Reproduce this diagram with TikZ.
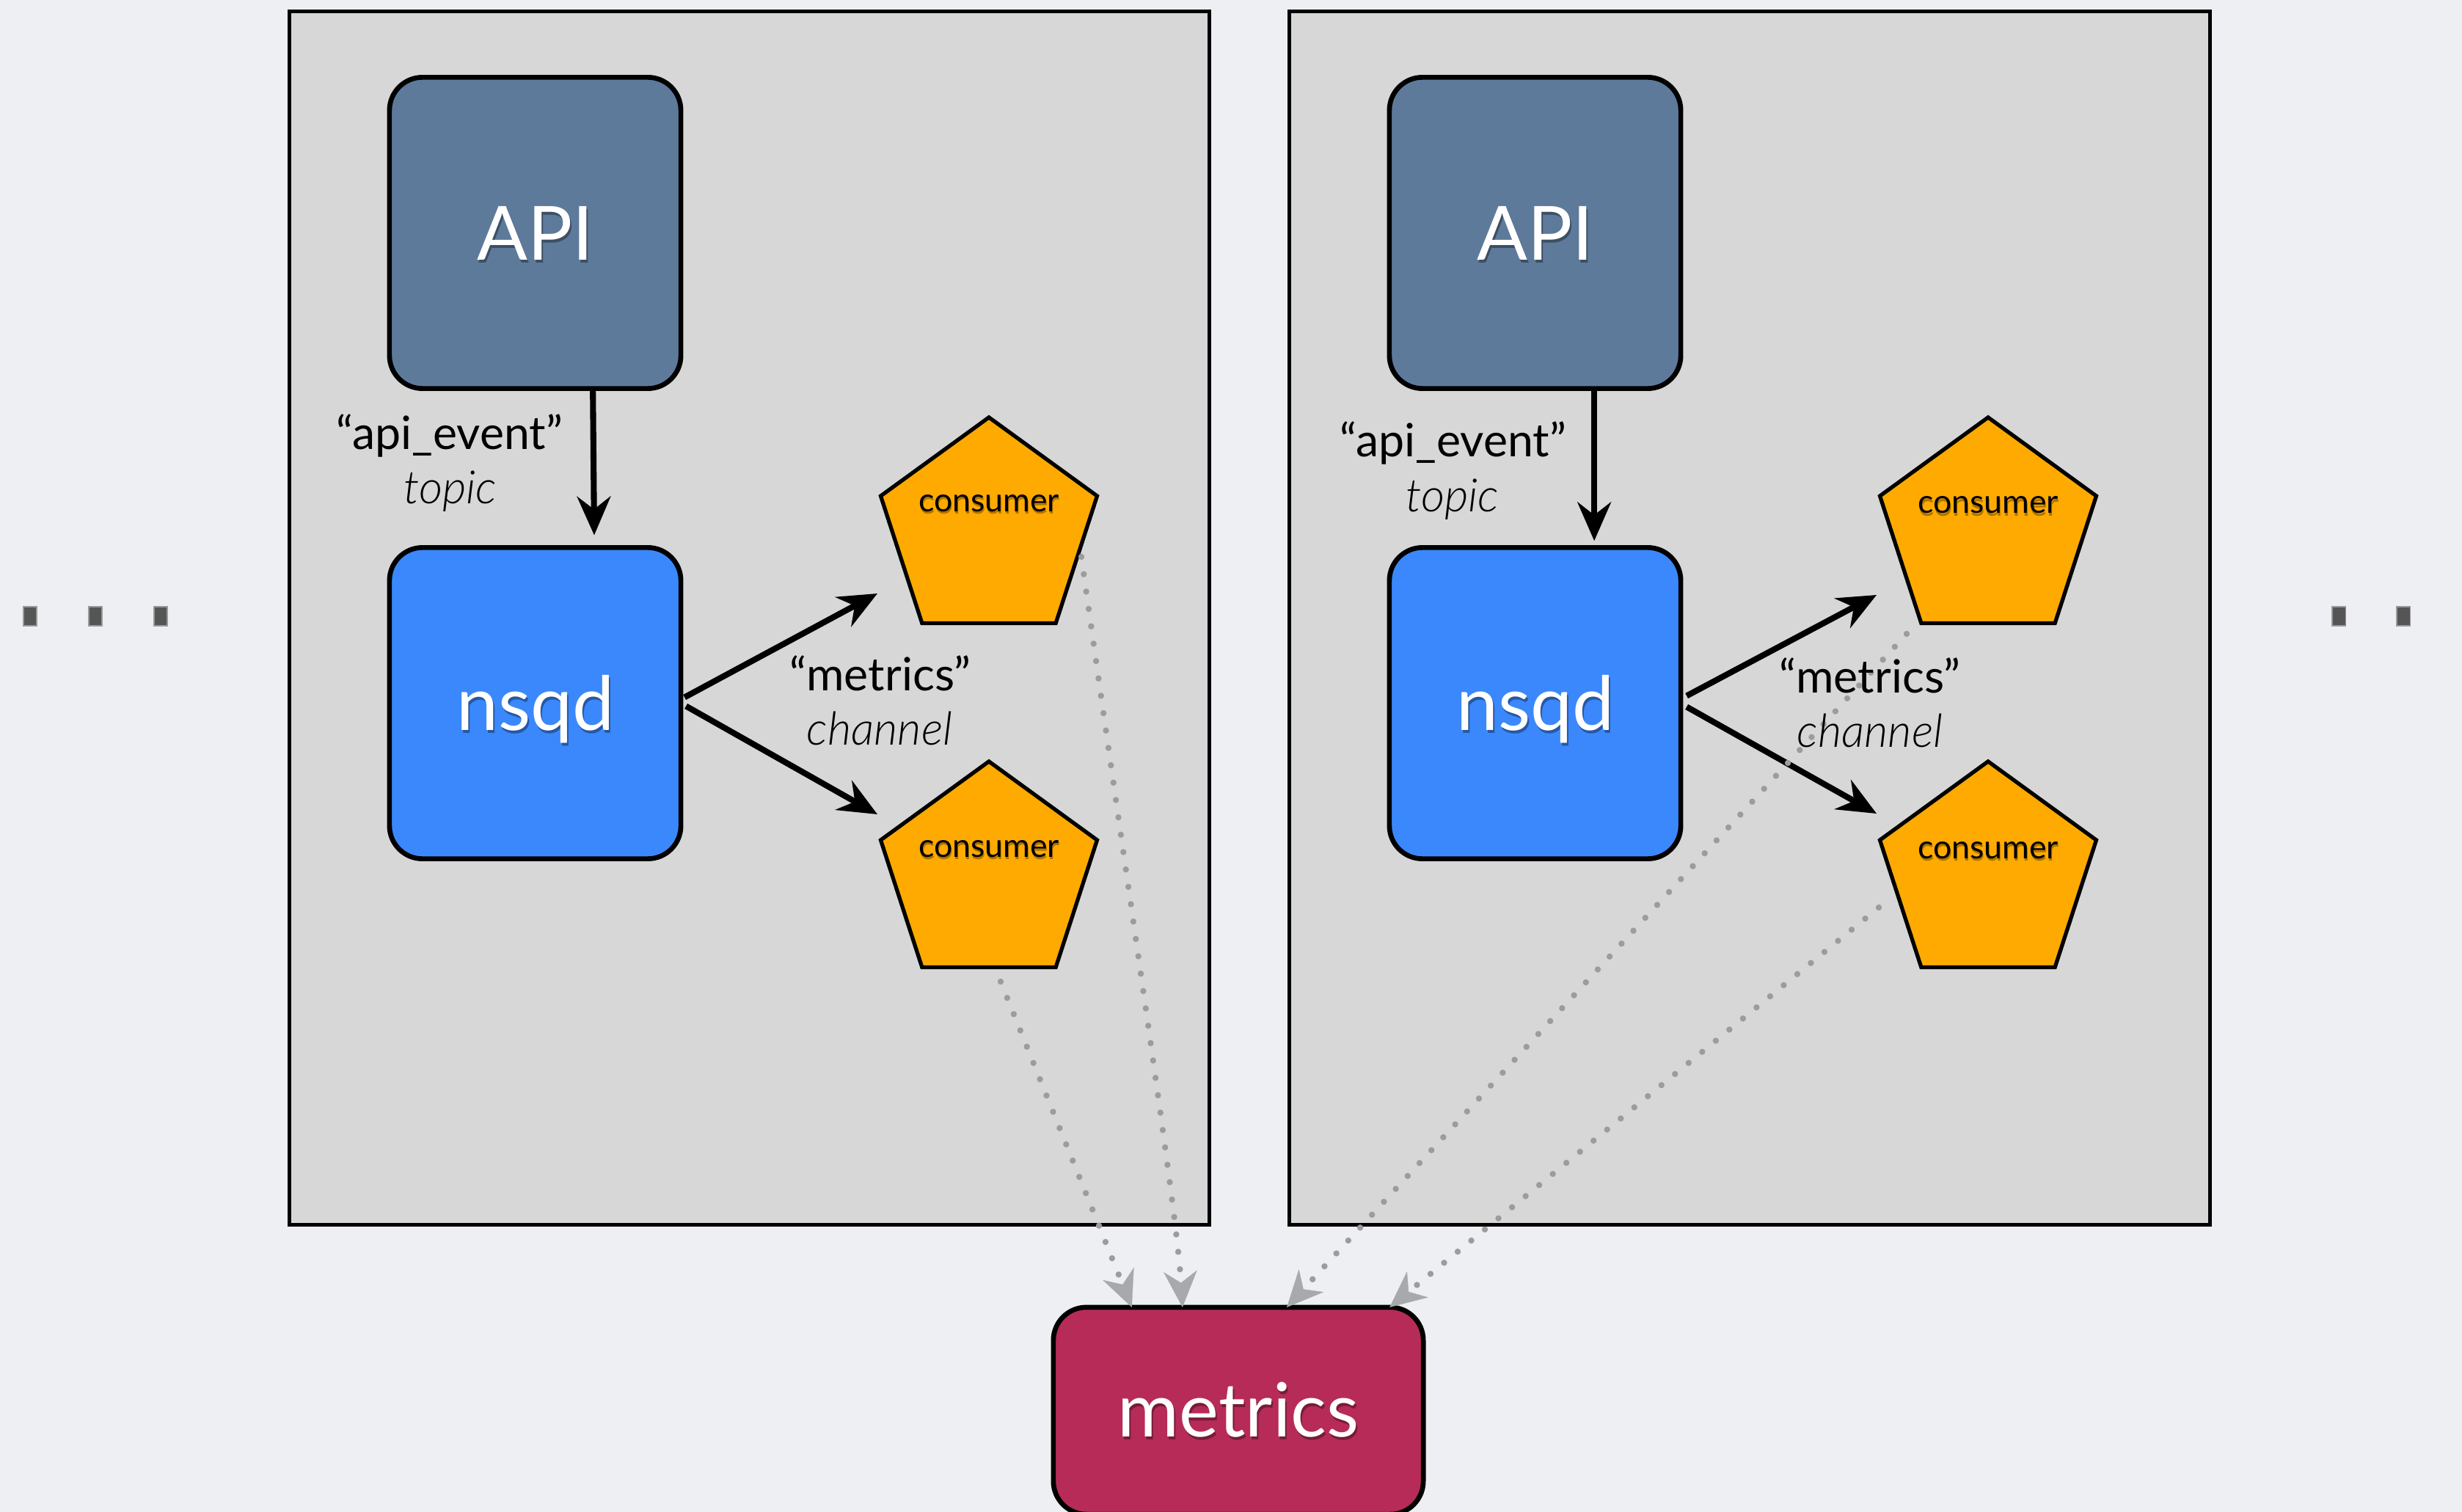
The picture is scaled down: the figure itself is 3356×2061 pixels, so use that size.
\documentclass[tikz,border=0pt]{standalone}
\usepackage{fontspec}
\setmainfont{Lato}
\newfontface\lightit{Lato Light Italic}
\usetikzlibrary{arrows.meta,shapes.geometric,calc}

\definecolor{bgcol}{HTML}{EEEFF2}
\definecolor{panelcol}{HTML}{D7D7D7}
\definecolor{apicol}{HTML}{5E7A9B}
\definecolor{nsqdcol}{HTML}{3B88FD}
\definecolor{conscol}{HTML}{FFAA00}
\definecolor{metcol}{HTML}{B72B58}
\definecolor{dotcol}{HTML}{9C9C9E}
\definecolor{tipcol}{HTML}{A8A9AD}
\definecolor{ellcol}{HTML}{555555}

\tikzset{
  panel/.style={rectangle, draw=black, fill=panelcol, line width=1.45pt,
    inner sep=0pt, outer sep=0pt},
  servicebox/.style={rectangle, rounded corners=0.45cm, draw=black,
    line width=1.9pt, inner sep=0pt, outer sep=0pt,
    minimum width=3.97cm, minimum height=4.24cm},
  consumer/.style={regular polygon, regular polygon sides=5, inner sep=0pt,
    outer sep=0pt, minimum size=3.1cm, draw=black, fill=conscol,
    line width=1.5pt},
  boxtxt/.style={anchor=base, text=white, font=\fontsize{29}{29}\selectfont},
  lbl/.style={anchor=base, font=\fontsize{17.8}{17.8}\selectfont},
  lblit/.style={anchor=base, font=\lightit\fontsize{17.8}{17.8}\selectfont},
  constxt/.style={anchor=base, font=\fontsize{12.7}{12.7}\selectfont},
  blackarr/.style={line width=2.3pt,
    -{Stealth[length=15pt,width=13pt,inset=5pt]}},
  dotarr/.style={draw=dotcol, line width=2.4pt,
    line cap=round, dash pattern=on 0pt off 6.8pt,
    -{Stealth[length=14pt,width=13pt,inset=4.5pt,color=tipcol,fill=tipcol,line width=0.1pt]}},
  ellmark/.style={rectangle, inner sep=0pt, outer sep=0pt,
    minimum width=0.18cm, minimum height=0.26cm, fill=ellcol,
    draw=black!40, line width=0.3pt},
}

% white caption with a soft drop shadow
\newcommand\whitelabel[3]{%
  \node[boxtxt, text=black, text opacity=0.35] (#1s) at ($#2+(2,4)$) {#3};
  \node[boxtxt] (#1) at #2 {#3};
}
% black caption with a faint shadow
\newcommand\conslabel[3]{%
  \node[constxt, text=black!70!conscol, text opacity=0.45] (#1s) at ($#2+(1,3)$) {#3};
  \node[constxt] (#1) at #2 {#3};
}

\begin{document}
\begin{tikzpicture}[x=0.01cm, y=-0.01cm]
\fill[bgcol] (0,0) rectangle (3356,2061);
\useasboundingbox (0,0) rectangle (3356,2061);
\clip (0,0) rectangle (3356,2061);

% ellipsis marks on both sides
\node[ellmark] (eL1) at (41,840) {};
\node[ellmark] (eL2) at (130,840) {};
\node[ellmark] (eL3) at (219,840) {};
\node[ellmark] (eR1) at (3188,840) {};
\node[ellmark] (eR2) at (3276,840) {};

% hosts
\node[panel, minimum width=12.53cm, minimum height=16.53cm] (panelL) at (1021.5,842.5) {};
\node[panel, minimum width=12.54cm, minimum height=16.53cm] (panelR) at (2385,842.5) {};

% services
\node[servicebox, fill=apicol] (apiL) at (729.5,317.5) {};
\node[servicebox, fill=nsqdcol] (nsqdL) at (729.5,958.5) {};
\node[servicebox, fill=apicol] (apiR) at (2092.5,317.5) {};
\node[servicebox, fill=nsqdcol] (nsqdR) at (2092.5,958.5) {};

\node[consumer] (cL1) at (1348,724) {};
\node[consumer] (cL2) at (1348,1193) {};
\node[consumer] (cR1) at (2710,724) {};
\node[consumer] (cR2) at (2710,1193) {};

\node[servicebox, fill=metcol, minimum width=5.04cm, minimum height=2.82cm] (met) at (1688,1923) {};

% arrow ends in front of the consumers
\coordinate (tL1) at (1196,809);
\coordinate (tL2) at (1196,1110);
\coordinate (tR1) at (2558,811);
\coordinate (tR2) at (2558,1109);

% start points of the metrics feeds
\coordinate (sL1) at (1474,759);
\coordinate (sL2) at (1364,1338);
\coordinate (sR1) at (2599,864);
\coordinate (sR2) at (2561,1237);

% topic arrows
\draw[blackarr, shorten >=4.8pt] ($(apiL.south west)!0.698!(apiL.south east)$) -- ($(nsqdL.north west)!0.703!(nsqdL.north east)$);
\draw[blackarr, shorten >=2.6pt] ($(apiR.south west)!0.703!(apiR.south east)$) -- ($(nsqdR.north west)!0.703!(nsqdR.north east)$);

% channel arrows
\draw[blackarr] ($(nsqdL.east)+(5,-8)$) -- (tL1);
\draw[blackarr] ($(nsqdL.east)+(7,4)$) -- (tL2);
\draw[blackarr] ($(nsqdR.east)+(8,-10)$) -- (tR1);
\draw[blackarr] ($(nsqdR.east)+(8,5)$) -- (tR2);

% metrics feeds
\draw[dotarr] (sL1) .. controls (1540,1230) and (1604,1650) .. ($(met.north west)!0.349!(met.north east)$);
\draw[dotarr] (sL2) -- ($(met.north west)!0.212!(met.north east)$);
\draw[dotarr] (sR1) -- ($(met.north west)!0.631!(met.north east)$);
\draw[dotarr] (sR2) -- ($(met.north west)!0.909!(met.north east)$);

% captions
\whitelabel{apiLt}{(729.5,355)}{API}
\whitelabel{nsqdLt}{(730,995)}{nsqd}
\whitelabel{apiRt}{(2092.5,355)}{API}
\whitelabel{nsqdRt}{(2093,995)}{nsqd}
\whitelabel{mett}{(1688,1958)}{metrics}

\conslabel{cL1t}{(1348,698)}{consumer}
\conslabel{cL2t}{(1348,1168)}{consumer}
\conslabel{cR1t}{(2710,700)}{consumer}
\conslabel{cR2t}{(2710,1170)}{consumer}

\node[lbl] (topicL) at (613,613) {“api\_event”};
\node[lblit] (topicLi) at (614,687) {topic};
\node[lbl] (topicR) at (1981,623) {“api\_event”};
\node[lblit] (topicRi) at (1980,698) {topic};
\node[lbl] (chanL) at (1200,942) {“metrics”};
\node[lblit] (chanLi) at (1199,1015) {channel};
\node[lbl] (chanR) at (2549,944) {“metrics”};
\node[lblit] (chanRi) at (2549,1018) {channel};
\end{tikzpicture}
\end{document}
